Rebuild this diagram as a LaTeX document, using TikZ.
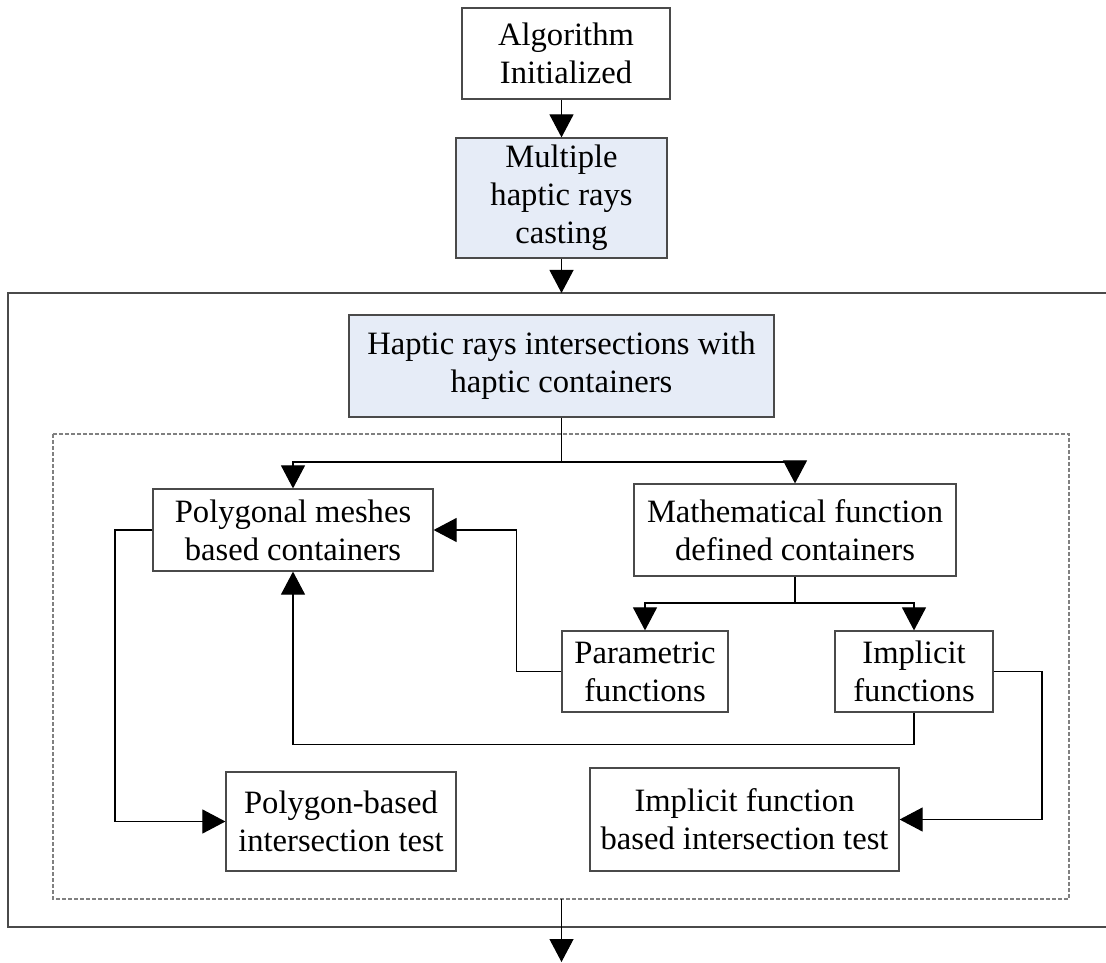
\documentclass[tikz,border=0pt]{standalone}
\usepackage{fontspec}
\setmainfont{Liberation Serif}
\usetikzlibrary{arrows.meta}
\definecolor{boxblue}{HTML}{E6ECF7}
\definecolor{frame}{HTML}{4A4A4A}
\tikzset{
  blk/.style={draw=frame, line width=0.6pt, inner sep=0pt, align=center,
    font=\fontsize{16.3}{19}\selectfont},
  hl/.style={blk, fill=boxblue},
  link/.style={draw=black, line width=0.55pt},
  arr/.style={link, -{Triangle[width=12pt,length=11.5pt]}},
}
\begin{document}
\begin{tikzpicture}[x=0.5pt,y=-0.5pt]
\useasboundingbox (0,0) rectangle (1106,962);

% outer frame, open on the right
\draw[frame, line width=0.8pt] (1106,293) -- (8,293) -- (8,927) -- (1106,927);
% dashed inner frame
\draw[gray, line width=0.6pt, dash pattern=on 2pt off 1pt] (53,434) rectangle (1069,899);

% blocks
\node[blk, minimum width=104pt, minimum height=45.5pt] (init) at (566,53.5) {Algorithm\\Initialized};
\node[hl, minimum width=105.5pt, minimum height=60pt] (cast) at (561.5,198) {Multiple\\haptic rays\\casting};
\node[hl, minimum width=212.5pt, minimum height=51pt] (inter) at (561.5,366) {Haptic rays intersections with\\haptic containers};
\node[blk, minimum width=140pt, minimum height=41pt] (poly) at (293,530) {Polygonal meshes\\based containers};
\node[blk, minimum width=161pt, minimum height=46pt] (math) at (795,530) {Mathematical function\\defined containers};
\node[blk, minimum width=83pt, minimum height=40.5pt] (param) at (645,671.5) {Parametric\\functions};
\node[blk, minimum width=79pt, minimum height=40.5pt] (impl) at (914,671.5) {Implicit\\functions};
\node[blk, minimum width=115pt, minimum height=49.5pt] (ptest) at (341,821.5) {Polygon-based\\intersection test};
\node[blk, minimum width=154.5pt, minimum height=51.5pt] (itest) at (744.5,819.5) {Implicit function\\based intersection test};

% helper points
\coordinate (frametop) at (561.5,293);
\coordinate (split1) at (561.5,462);
\coordinate (split2) at (795,603);
\coordinate (dashbot) at (561.5,899);
\coordinate (exit) at (561.5,962);

% connectors
\draw[arr] (cast.north |- init.south) -- (cast.north);
\draw[arr] (cast.south) -- (frametop);
\draw[link] (inter.south) -- (split1);
\draw[arr] (split1) -| (poly.north);
\draw[arr] (split1) -| (math.north);
\draw[link] (math.south) -- (split2);
\draw[arr] (split2) -| (param.north);
\draw[arr] (split2) -| (impl.north);
\draw[arr] (param.west) -- ++(-45,0) |- (poly.east);
\draw[arr] (impl.south) -- ++(0,32) -| (poly.south);
\draw[arr] (impl.east) -- (1042,671.5) |- (itest.east);
\draw[arr] (poly.west) -- (115,530) |- (ptest.west);
\draw[arr] (dashbot) -- (exit);
\end{tikzpicture}
\end{document}
